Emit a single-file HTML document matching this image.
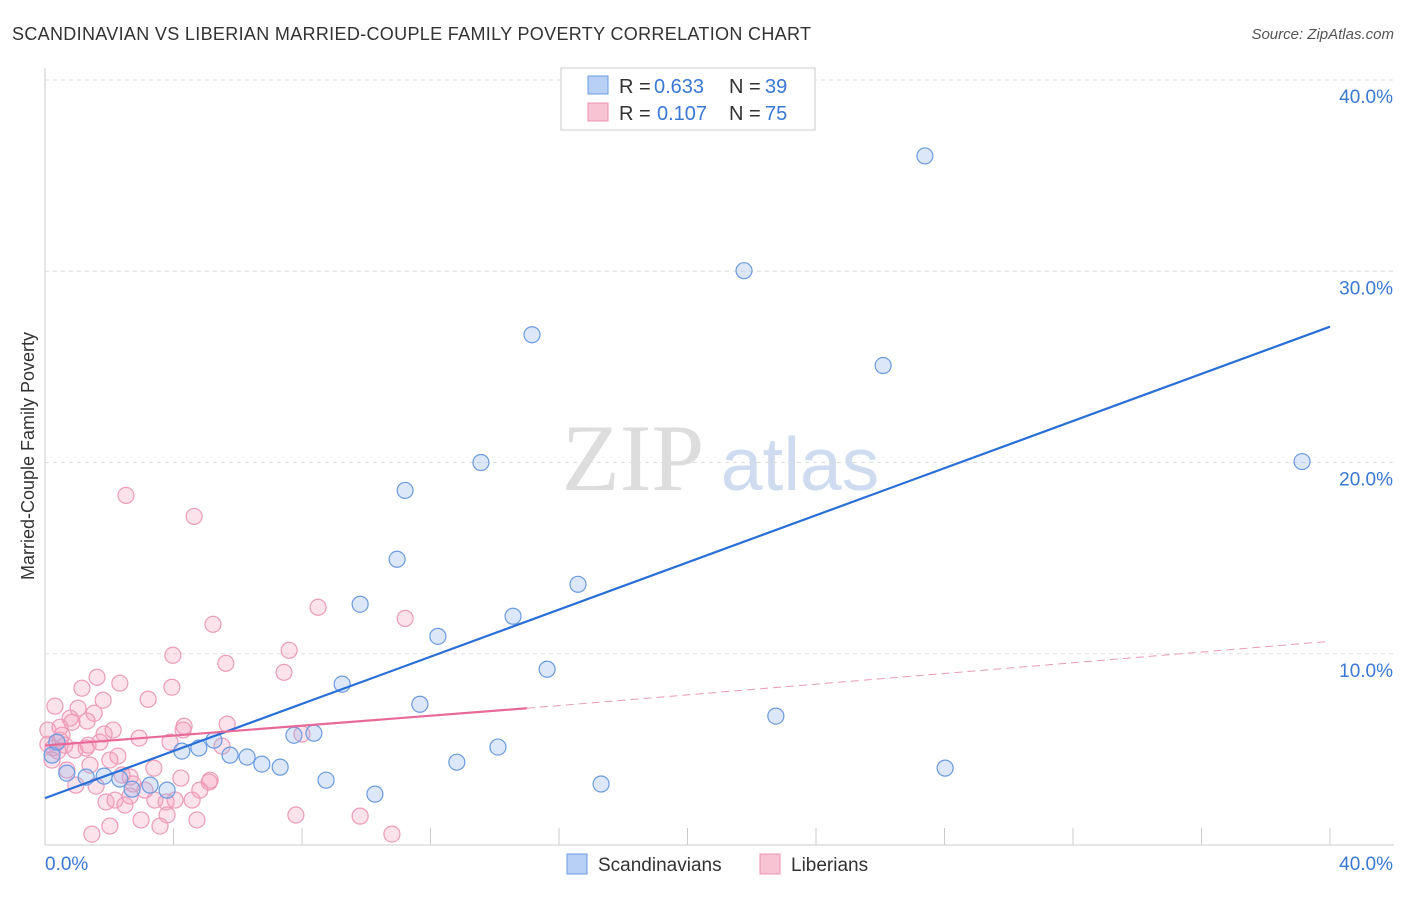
<!DOCTYPE html>
<html><head><meta charset="utf-8"><style>
body{margin:0;background:#fff;font-family:"Liberation Sans",sans-serif}
</style></head><body>
<svg id="c" width="1406" height="892" font-family="Liberation Sans, sans-serif">
<text x="12" y="40" font-size="18" fill="#333" textLength="799">SCANDINAVIAN VS LIBERIAN MARRIED-COUPLE FAMILY POVERTY CORRELATION CHART</text>
<text x="1394" y="39" font-size="15" fill="#555" font-style="italic" text-anchor="end">Source: ZipAtlas.com</text>
<text x="34" y="456" font-size="18" fill="#333" text-anchor="middle" transform="rotate(-90 34 456)">Married-Couple Family Poverty</text>
<text x="633" y="490" font-size="95" fill="#ddd" text-anchor="middle" style="font-family:'Liberation Serif',serif">ZIP</text>
<text x="800" y="490" font-size="75" fill="#cfdcf0" text-anchor="middle">atlas</text>
<g id="grid"></g><g id="marks"></g>
<g>
<rect x="561" y="68" width="254" height="62" fill="#fff" stroke="#ccc"/>
<rect x="588" y="76" width="20" height="18" fill="#b8d0f4" stroke="#6a9be0"/>
<text x="619" y="93" font-size="20" fill="#333">R =</text>
<text x="654" y="93" font-size="20" fill="#3a78d4">0.633</text>
<text x="729" y="93" font-size="20" fill="#333">N =</text>
<text x="765" y="93" font-size="20" fill="#3a78d4">39</text>
<rect x="588" y="103" width="20" height="18" fill="#f8c4d4" stroke="#e890b0"/>
<text x="619" y="120" font-size="20" fill="#333">R =</text>
<text x="657" y="120" font-size="20" fill="#3a78d4">0.107</text>
<text x="729" y="120" font-size="20" fill="#333">N =</text>
<text x="765" y="120" font-size="20" fill="#3a78d4">75</text>
</g>
<g>
<rect x="567" y="854" width="20" height="20" fill="#b8d0f4" stroke="#6a9be0"/>
<text x="598" y="871" font-size="19" fill="#333">Scandinavians</text>
<rect x="760" y="854" width="20" height="20" fill="#f8c4d4" stroke="#e890b0"/>
<text x="791" y="871" font-size="19" fill="#333">Liberians</text>
</g>
</svg>
<script>
const yTicks=[10,20,30,40];
const xTickLabels=["0.0%","40.0%"];
const blueX=[27.39,21.76,15.16,26.09,39.13,13.57,11.21,10.96,16.59,9.81,14.57,12.23,15.63,9.25,11.67,22.75,8.37,7.75,14.1,5.26,4.79,4.26,5.76,6.29,6.75,7.32,12.82,28.02,8.75,10.27,17.31,0.68,1.28,1.84,2.33,3.27,3.80,2.71,0.22,0.37];
const blueY=[36.03,30.03,26.68,25.07,20.05,20.0,18.54,14.94,13.63,12.59,11.96,10.91,9.19,8.41,7.36,6.74,5.85,5.74,5.12,5.48,5.07,4.91,4.70,4.60,4.23,4.07,4.33,4.02,3.39,2.66,3.19,3.76,3.55,3.60,3.45,3.13,2.87,2.92,4.70,5.38];
const pinkX=[2.52,4.64,8.50,11.21,5.23,7.60,3.98,5.63,7.44,1.62,2.33,3.95,1.15,3.21,1.81,0.31,1.03,1.53,0.78,1.31,5.67,4.33,0.84,2.12,1.84,2.93,3.89,8.0,0.47,0.09,0.25,0.62,0.40,2.27,5.51,1.40,3.39,2.40,4.23,5.14,0.96,1.59,2.74,5.11,2.65,1.90,2.18,3.77,4.58,4.05,2.99,4.73,3.80,7.81,9.81,3.58,2.02,1.46,10.80,1.28,0.53,0.22,0.68,0.09,0.47,0.93,4.30,1.34,1.71,2.65,3.11,3.42,2.49,4.82,2.02];
const pinkY=[18.28,17.18,12.43,11.85,11.54,10.18,9.92,9.50,9.03,8.77,8.46,8.25,8.20,7.62,7.57,7.26,7.15,6.89,6.63,6.48,6.32,6.21,6.42,6.01,5.80,5.59,5.38,5.80,5.48,5.27,5.07,5.22,4.91,4.65,5.17,4.18,4.02,3.66,3.50,3.39,3.13,3.08,3.19,3.29,2.56,2.25,2.35,2.25,2.35,2.35,1.31,1.31,1.57,1.57,1.51,0.99,0.99,0.57,0.57,5.07,5.74,4.44,3.92,6.01,6.16,4.96,6.01,5.22,5.38,3.55,2.87,2.35,2.09,2.87,4.44];
const blueTrend=[2.45,27.1];
const pinkTrend=[5.2,7.15,10.65];
const pinkSolidEnd=15;
const NS="http://www.w3.org/2000/svg";
const X0=45,X1=1330,Y0=845,Y1=80;
const sx=v=>X0+(v/40)*(X1-X0), sy=v=>Y0-(v/40)*(Y0-Y1);
function mk(t,a,p){const e=document.createElementNS(NS,t);for(const k in a)e.setAttribute(k,a[k]);p.appendChild(e);return e;}
const g=document.getElementById('grid'),m=document.getElementById('marks');
mk('line',{x1:X0,y1:68,x2:X0,y2:Y0,stroke:'#ccc'},g);
mk('line',{x1:X0,y1:Y0,x2:1394,y2:Y0,stroke:'#ccc'},g);
yTicks.forEach(t=>{
 const l=mk('line',{x1:X0,y1:sy(t),x2:1394,y2:sy(t),stroke:'#ddd','stroke-dasharray':'4,4'},g);
 
 
 const tx=mk('text',{x:1393,y:sy(t)+23,'font-size':19,fill:'#3a78d4','text-anchor':'end'},g);
 tx.textContent=t.toFixed(1)+'%';
 
 
});
for(let i=1;i<=10;i++){const l=mk('line',{x1:sx(i*4),y1:Y0,x2:sx(i*4),y2:828,stroke:'#ccc'},g);
 
 }
[[xTickLabels[0],45,'start'],[xTickLabels[1],1393,'end']].forEach(([s,x,a])=>{
 const tx=mk('text',{x:x,y:870,'font-size':19,fill:'#3a78d4','text-anchor':a},g);tx.textContent=s;
 
 });
pinkX.forEach((x,i)=>{const c=mk('circle',{cx:sx(x),cy:sy(pinkY[i]),r:8,fill:'rgba(244,160,190,0.3)',stroke:'#ec9bb8','stroke-width':1.2},m);
 
 });
blueX.forEach((x,i)=>{const c=mk('circle',{cx:sx(x),cy:sy(blueY[i]),r:8,fill:'rgba(140,180,240,0.3)',stroke:'#6a9be0','stroke-width':1.2},m);
 
 });
let l=mk('line',{x1:sx(0),y1:sy(blueTrend[0]),x2:sx(40),y2:sy(blueTrend[1]),stroke:'#2a6fd6','stroke-width':2.2},m);


l=mk('line',{x1:sx(0),y1:sy(pinkTrend[0]),x2:sx(pinkSolidEnd),y2:sy(pinkTrend[1]),stroke:'#e86a98','stroke-width':2.2},m);


l=mk('line',{x1:sx(pinkSolidEnd),y1:sy(pinkTrend[1]),x2:sx(40),y2:sy(pinkTrend[2]),stroke:'#e89ab8','stroke-width':1,'stroke-dasharray':'8,5'},m);


</script>
</body></html>
